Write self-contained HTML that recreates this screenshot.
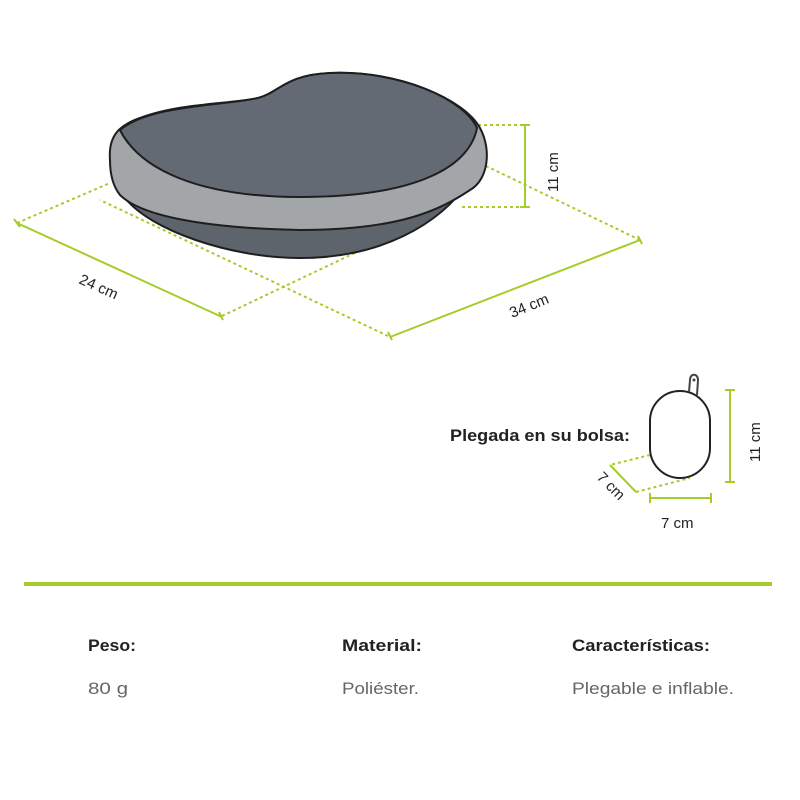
<!DOCTYPE html>
<html><head><style>
body{margin:0;background:#fff;}
svg{display:block}
text{font-family:"Liberation Sans",sans-serif;}
</style></head><body>
<svg width="800" height="800" viewBox="0 0 800 800" xmlns="http://www.w3.org/2000/svg">
<g stroke="#a5cc2a" fill="none">
 <g stroke-width="2" stroke-dasharray="3,3">
  <line x1="17" y1="223" x2="110" y2="183"/>
  <line x1="222" y1="316" x2="420" y2="222"/>
  <line x1="388" y1="336" x2="100" y2="200"/>
  <line x1="640" y1="240" x2="486" y2="166"/>
  <line x1="478" y1="125" x2="525" y2="125"/>
  <line x1="462" y1="207" x2="525" y2="207"/>
 </g>
 <g stroke-width="2">
  <line x1="17" y1="223" x2="222" y2="317"/>
  <line x1="14" y1="219" x2="20" y2="227"/>
  <line x1="219" y1="312" x2="223" y2="320"/>
  <line x1="390" y1="337" x2="640" y2="240"/>
  <line x1="388" y1="332" x2="392" y2="340"/>
  <line x1="638" y1="236" x2="642" y2="244"/>
  <line x1="525" y1="125" x2="525" y2="207"/>
  <line x1="520" y1="125" x2="530" y2="125"/>
  <line x1="520" y1="207" x2="530" y2="207"/>
 </g>
</g>
<!-- pillow -->
<g stroke="#1e1e1e" stroke-width="2">
 <path d="M125,198 C150,230 230,258 300,258 C380,258 440,225 470,180 L300,225 Z" fill="#5e646c"/>
 <path d="M110,160 C108,135 120,125 140,118 C180,103 230,104 258,98 C280,92 285,75 330,73 C400,70 465,100 480,128 C492,150 488,180 470,190 C440,210 400,230 300,230 C200,228 140,215 120,195 C112,185 110,172 110,160 Z" fill="#a3a6a8"/>
 <path d="M120,130 C150,105 220,106 258,98 C280,92 285,75 330,73 C400,70 465,100 477,128 C470,165 420,197 300,197 C200,197 140,170 120,130 Z" fill="#636a73"/>
</g>
<text x="0" y="0" font-size="15" fill="#222" transform="translate(78,283) rotate(24)">24 cm</text>
<text x="0" y="0" font-size="15" fill="#222" transform="translate(512,318) rotate(-22)">34 cm</text>
<text x="0" y="0" font-size="15" fill="#222" transform="translate(558,192) rotate(-90)">11 cm</text>
<!-- bag -->
<text x="450" y="441" font-size="16.5" font-weight="bold" fill="#222" textLength="180" lengthAdjust="spacingAndGlyphs">Plegada en su bolsa:</text>
<g fill="none" stroke="#a5cc2a" stroke-width="2">
 <polyline stroke-dasharray="3,3" points="650,455 610,465"/>
 <polyline stroke-dasharray="3,3" points="636,492 690,478"/>
 <line x1="610" y1="465" x2="636" y2="492"/>
 <line x1="650" y1="498" x2="711" y2="498"/>
 <line x1="650" y1="493" x2="650" y2="503"/>
 <line x1="711" y1="493" x2="711" y2="503"/>
 <line x1="730" y1="390" x2="730" y2="482"/>
 <line x1="725" y1="390" x2="735" y2="390"/>
 <line x1="725" y1="482" x2="735" y2="482"/>
</g>
<rect x="650" y="391" width="60" height="87" rx="30" ry="30" fill="#fff" stroke="#222" stroke-width="2"/>
<path d="M689,392 L690,380 C690,373 698,373 698,380 L697,395" fill="none" stroke="#444" stroke-width="2"/>
<circle cx="694" cy="380" r="1.5" fill="#444"/>
<text x="0" y="0" font-size="15" fill="#222" transform="translate(596,478) rotate(45)">7 cm</text>
<text x="661" y="528" font-size="15" fill="#222">7 cm</text>
<text x="0" y="0" font-size="15" fill="#222" transform="translate(760,462) rotate(-90)">11 cm</text>
<!-- footer -->
<rect x="24" y="582" width="748" height="4" fill="#a5cc2a"/>
<g font-size="17" font-weight="bold" fill="#222">
 <text x="88" y="651" textLength="48" lengthAdjust="spacingAndGlyphs">Peso:</text>
 <text x="342" y="651" textLength="80" lengthAdjust="spacingAndGlyphs">Material:</text>
 <text x="572" y="651" textLength="138" lengthAdjust="spacingAndGlyphs">Características:</text>
</g>
<g font-size="17" fill="#666">
 <text x="88" y="694" textLength="40" lengthAdjust="spacingAndGlyphs">80 g</text>
 <text x="342" y="694" textLength="77" lengthAdjust="spacingAndGlyphs">Poliéster.</text>
 <text x="572" y="694" textLength="162" lengthAdjust="spacingAndGlyphs">Plegable e inflable.</text>
</g>
</svg>
</body></html>
